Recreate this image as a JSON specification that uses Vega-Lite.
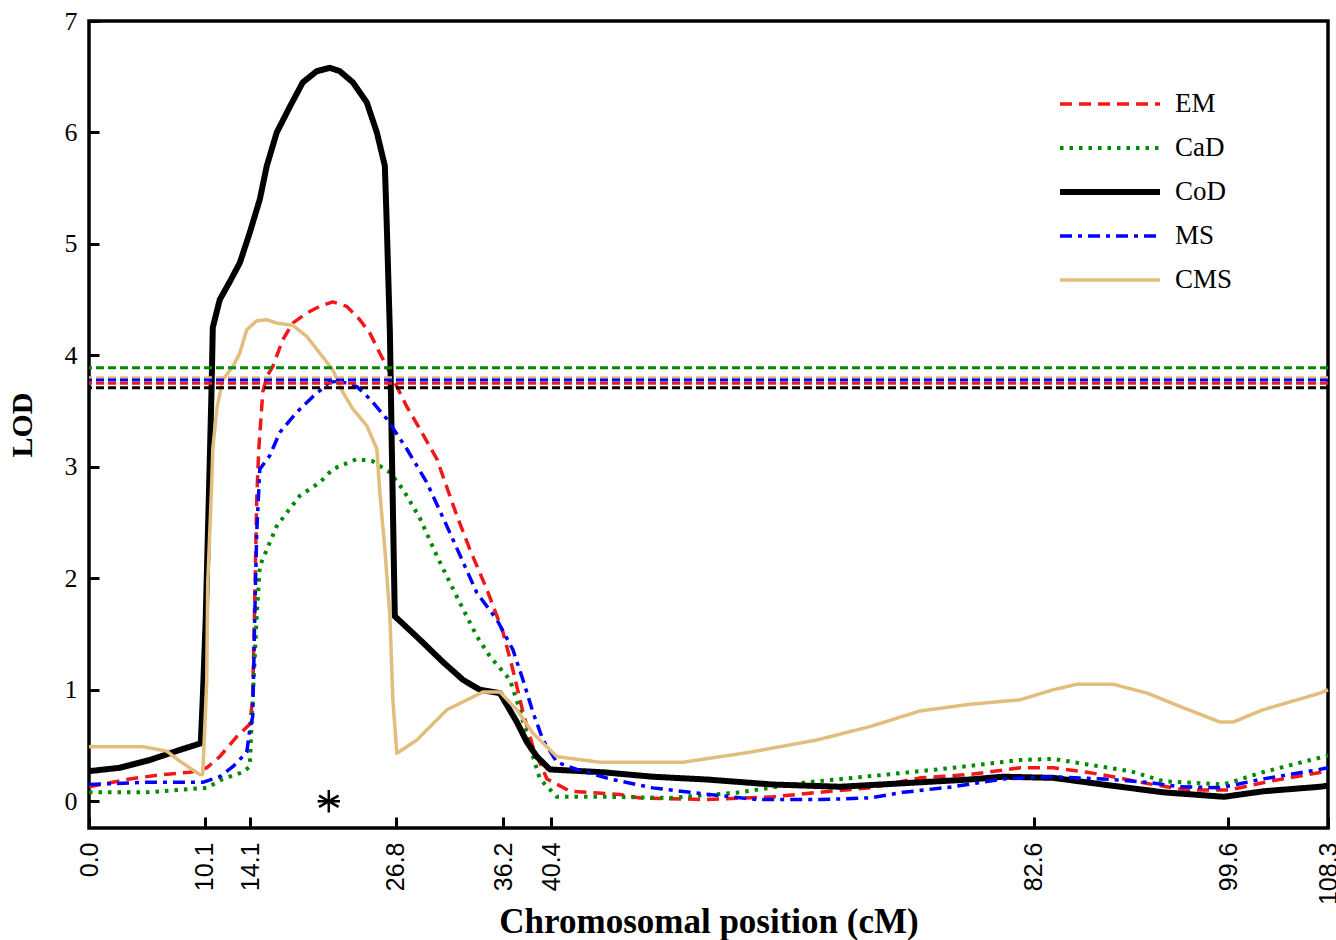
{
  "$schema": "https://vega.github.io/schema/vega-lite/v6.json",
  "autosize": "none",
  "width": 1239,
  "height": 807,
  "padding": {"left": 89, "top": 21, "right": 8, "bottom": 112},
  "background": "white",
  "config": {
    "view": {"stroke": "black", "strokeWidth": 3.5},
    "axis": {"grid": false, "domain": false, "tickColor": "black", "labelColor": "black", "titleColor": "black"}
  },
  "datasets": {
    "curves": [
      {"method": "EM", "pos": 0.0, "lod": 0.13},
      {"method": "EM", "pos": 3.56, "lod": 0.2},
      {"method": "EM", "pos": 6.45, "lod": 0.24},
      {"method": "EM", "pos": 8.81, "lod": 0.26},
      {"method": "EM", "pos": 10.29, "lod": 0.3},
      {"method": "EM", "pos": 11.43, "lod": 0.4},
      {"method": "EM", "pos": 12.92, "lod": 0.58},
      {"method": "EM", "pos": 14.05, "lod": 0.69},
      {"method": "EM", "pos": 14.3, "lod": 0.91},
      {"method": "EM", "pos": 14.49, "lod": 1.81},
      {"method": "EM", "pos": 14.66, "lod": 2.71},
      {"method": "EM", "pos": 14.84, "lod": 3.16},
      {"method": "EM", "pos": 15.19, "lod": 3.67},
      {"method": "EM", "pos": 15.54, "lod": 3.81},
      {"method": "EM", "pos": 16.06, "lod": 3.9},
      {"method": "EM", "pos": 16.94, "lod": 4.14},
      {"method": "EM", "pos": 17.81, "lod": 4.29},
      {"method": "EM", "pos": 19.04, "lod": 4.38},
      {"method": "EM", "pos": 20.17, "lod": 4.44},
      {"method": "EM", "pos": 21.31, "lod": 4.48},
      {"method": "EM", "pos": 22.53, "lod": 4.44},
      {"method": "EM", "pos": 23.67, "lod": 4.32},
      {"method": "EM", "pos": 24.55, "lod": 4.2},
      {"method": "EM", "pos": 25.42, "lod": 4.02},
      {"method": "EM", "pos": 26.03, "lod": 3.9},
      {"method": "EM", "pos": 26.91, "lod": 3.72},
      {"method": "EM", "pos": 27.78, "lod": 3.54},
      {"method": "EM", "pos": 28.92, "lod": 3.34},
      {"method": "EM", "pos": 30.41, "lod": 3.07},
      {"method": "EM", "pos": 32.16, "lod": 2.56},
      {"method": "EM", "pos": 33.29, "lod": 2.26},
      {"method": "EM", "pos": 34.78, "lod": 1.9},
      {"method": "EM", "pos": 36.18, "lod": 1.52},
      {"method": "EM", "pos": 37.05, "lod": 1.18},
      {"method": "EM", "pos": 37.93, "lod": 0.8},
      {"method": "EM", "pos": 38.8, "lod": 0.49},
      {"method": "EM", "pos": 40.03, "lod": 0.2},
      {"method": "EM", "pos": 42.04, "lod": 0.09},
      {"method": "EM", "pos": 46.41, "lod": 0.06},
      {"method": "EM", "pos": 48.16, "lod": 0.03},
      {"method": "EM", "pos": 54.0, "lod": 0.015},
      {"method": "EM", "pos": 59.8, "lod": 0.04},
      {"method": "EM", "pos": 64.79, "lod": 0.09},
      {"method": "EM", "pos": 68.3, "lod": 0.12},
      {"method": "EM", "pos": 72.64, "lod": 0.21},
      {"method": "EM", "pos": 77.0, "lod": 0.24},
      {"method": "EM", "pos": 81.39, "lod": 0.3},
      {"method": "EM", "pos": 84.28, "lod": 0.3},
      {"method": "EM", "pos": 87.25, "lod": 0.26},
      {"method": "EM", "pos": 89.52, "lod": 0.22},
      {"method": "EM", "pos": 91.88, "lod": 0.17},
      {"method": "EM", "pos": 95.99, "lod": 0.1},
      {"method": "EM", "pos": 99.6, "lod": 0.1},
      {"method": "EM", "pos": 103.25, "lod": 0.18},
      {"method": "EM", "pos": 108.3, "lod": 0.27},

      {"method": "CaD", "pos": 0.0, "lod": 0.08},
      {"method": "CaD", "pos": 5.05, "lod": 0.08},
      {"method": "CaD", "pos": 10.29, "lod": 0.12},
      {"method": "CaD", "pos": 11.69, "lod": 0.2},
      {"method": "CaD", "pos": 13.44, "lod": 0.26},
      {"method": "CaD", "pos": 14.05, "lod": 0.31},
      {"method": "CaD", "pos": 14.31, "lod": 0.91},
      {"method": "CaD", "pos": 14.66, "lod": 1.66},
      {"method": "CaD", "pos": 14.93, "lod": 2.11},
      {"method": "CaD", "pos": 15.8, "lod": 2.32},
      {"method": "CaD", "pos": 16.41, "lod": 2.47},
      {"method": "CaD", "pos": 18.42, "lod": 2.74},
      {"method": "CaD", "pos": 20.17, "lod": 2.86},
      {"method": "CaD", "pos": 21.31, "lod": 2.98},
      {"method": "CaD", "pos": 23.41, "lod": 3.07},
      {"method": "CaD", "pos": 24.81, "lod": 3.05},
      {"method": "CaD", "pos": 26.3, "lod": 2.95},
      {"method": "CaD", "pos": 27.43, "lod": 2.8},
      {"method": "CaD", "pos": 28.92, "lod": 2.54},
      {"method": "CaD", "pos": 30.41, "lod": 2.2},
      {"method": "CaD", "pos": 32.42, "lod": 1.78},
      {"method": "CaD", "pos": 33.9, "lod": 1.48},
      {"method": "CaD", "pos": 35.04, "lod": 1.3},
      {"method": "CaD", "pos": 36.79, "lod": 1.09},
      {"method": "CaD", "pos": 37.66, "lod": 0.82},
      {"method": "CaD", "pos": 38.54, "lod": 0.49},
      {"method": "CaD", "pos": 39.41, "lod": 0.2},
      {"method": "CaD", "pos": 40.9, "lod": 0.04},
      {"method": "CaD", "pos": 44.92, "lod": 0.04},
      {"method": "CaD", "pos": 50.78, "lod": 0.03},
      {"method": "CaD", "pos": 56.9, "lod": 0.08},
      {"method": "CaD", "pos": 62.76, "lod": 0.17},
      {"method": "CaD", "pos": 69.76, "lod": 0.24},
      {"method": "CaD", "pos": 75.53, "lod": 0.3},
      {"method": "CaD", "pos": 81.39, "lod": 0.37},
      {"method": "CaD", "pos": 84.28, "lod": 0.38},
      {"method": "CaD", "pos": 87.25, "lod": 0.33},
      {"method": "CaD", "pos": 91.01, "lod": 0.27},
      {"method": "CaD", "pos": 93.9, "lod": 0.18},
      {"method": "CaD", "pos": 99.15, "lod": 0.15},
      {"method": "CaD", "pos": 102.6, "lod": 0.26},
      {"method": "CaD", "pos": 108.3, "lod": 0.41},

      {"method": "CoD", "pos": 0.0, "lod": 0.27},
      {"method": "CoD", "pos": 2.68, "lod": 0.3},
      {"method": "CoD", "pos": 5.31, "lod": 0.37},
      {"method": "CoD", "pos": 7.93, "lod": 0.46},
      {"method": "CoD", "pos": 9.77, "lod": 0.52},
      {"method": "CoD", "pos": 9.94, "lod": 0.91},
      {"method": "CoD", "pos": 10.2, "lod": 1.63},
      {"method": "CoD", "pos": 10.38, "lod": 2.35},
      {"method": "CoD", "pos": 10.56, "lod": 3.07},
      {"method": "CoD", "pos": 10.73, "lod": 3.78},
      {"method": "CoD", "pos": 10.82, "lod": 4.25},
      {"method": "CoD", "pos": 11.43, "lod": 4.5},
      {"method": "CoD", "pos": 12.3, "lod": 4.66},
      {"method": "CoD", "pos": 13.18, "lod": 4.83},
      {"method": "CoD", "pos": 14.05, "lod": 5.1},
      {"method": "CoD", "pos": 14.93, "lod": 5.4},
      {"method": "CoD", "pos": 15.54, "lod": 5.7},
      {"method": "CoD", "pos": 16.41, "lod": 6.0},
      {"method": "CoD", "pos": 17.55, "lod": 6.23},
      {"method": "CoD", "pos": 18.69, "lod": 6.45},
      {"method": "CoD", "pos": 19.91, "lod": 6.55},
      {"method": "CoD", "pos": 21.05, "lod": 6.58},
      {"method": "CoD", "pos": 21.92, "lod": 6.55},
      {"method": "CoD", "pos": 23.06, "lod": 6.45},
      {"method": "CoD", "pos": 24.28, "lod": 6.27},
      {"method": "CoD", "pos": 25.16, "lod": 6.0},
      {"method": "CoD", "pos": 25.86, "lod": 5.7},
      {"method": "CoD", "pos": 26.03, "lod": 5.16},
      {"method": "CoD", "pos": 26.3, "lod": 4.21},
      {"method": "CoD", "pos": 26.47, "lod": 3.16},
      {"method": "CoD", "pos": 26.73, "lod": 1.66},
      {"method": "CoD", "pos": 28.92, "lod": 1.45},
      {"method": "CoD", "pos": 30.93, "lod": 1.25},
      {"method": "CoD", "pos": 32.68, "lod": 1.09},
      {"method": "CoD", "pos": 34.17, "lod": 1.0},
      {"method": "CoD", "pos": 35.92, "lod": 0.97},
      {"method": "CoD", "pos": 37.4, "lod": 0.71},
      {"method": "CoD", "pos": 38.28, "lod": 0.53},
      {"method": "CoD", "pos": 39.15, "lod": 0.4},
      {"method": "CoD", "pos": 40.29, "lod": 0.285},
      {"method": "CoD", "pos": 44.92, "lod": 0.26},
      {"method": "CoD", "pos": 49.29, "lod": 0.22},
      {"method": "CoD", "pos": 54.0, "lod": 0.195},
      {"method": "CoD", "pos": 59.79, "lod": 0.15},
      {"method": "CoD", "pos": 65.65, "lod": 0.13},
      {"method": "CoD", "pos": 72.64, "lod": 0.17},
      {"method": "CoD", "pos": 77.0, "lod": 0.195},
      {"method": "CoD", "pos": 79.9, "lod": 0.22},
      {"method": "CoD", "pos": 84.28, "lod": 0.21},
      {"method": "CoD", "pos": 88.65, "lod": 0.15},
      {"method": "CoD", "pos": 93.9, "lod": 0.08},
      {"method": "CoD", "pos": 99.2, "lod": 0.04},
      {"method": "CoD", "pos": 102.7, "lod": 0.09},
      {"method": "CoD", "pos": 107.6, "lod": 0.13},
      {"method": "CoD", "pos": 108.3, "lod": 0.14},

      {"method": "MS", "pos": 0.0, "lod": 0.15},
      {"method": "MS", "pos": 5.05, "lod": 0.17},
      {"method": "MS", "pos": 9.94, "lod": 0.17},
      {"method": "MS", "pos": 11.43, "lod": 0.22},
      {"method": "MS", "pos": 12.57, "lod": 0.31},
      {"method": "MS", "pos": 13.79, "lod": 0.44},
      {"method": "MS", "pos": 14.05, "lod": 0.64},
      {"method": "MS", "pos": 14.31, "lod": 0.76},
      {"method": "MS", "pos": 14.49, "lod": 1.66},
      {"method": "MS", "pos": 14.66, "lod": 2.41},
      {"method": "MS", "pos": 14.93, "lod": 2.98},
      {"method": "MS", "pos": 15.8, "lod": 3.1},
      {"method": "MS", "pos": 16.68, "lod": 3.31},
      {"method": "MS", "pos": 18.16, "lod": 3.49},
      {"method": "MS", "pos": 19.56, "lod": 3.63},
      {"method": "MS", "pos": 21.05, "lod": 3.76},
      {"method": "MS", "pos": 21.92, "lod": 3.77},
      {"method": "MS", "pos": 23.41, "lod": 3.72},
      {"method": "MS", "pos": 24.55, "lod": 3.61},
      {"method": "MS", "pos": 26.03, "lod": 3.43},
      {"method": "MS", "pos": 27.78, "lod": 3.16},
      {"method": "MS", "pos": 29.53, "lod": 2.86},
      {"method": "MS", "pos": 31.54, "lod": 2.41},
      {"method": "MS", "pos": 33.9, "lod": 1.87},
      {"method": "MS", "pos": 35.65, "lod": 1.63},
      {"method": "MS", "pos": 37.05, "lod": 1.36},
      {"method": "MS", "pos": 37.93, "lod": 1.09},
      {"method": "MS", "pos": 38.8, "lod": 0.8},
      {"method": "MS", "pos": 39.68, "lod": 0.55},
      {"method": "MS", "pos": 40.9, "lod": 0.35},
      {"method": "MS", "pos": 42.65, "lod": 0.285},
      {"method": "MS", "pos": 45.53, "lod": 0.2},
      {"method": "MS", "pos": 49.29, "lod": 0.12},
      {"method": "MS", "pos": 52.53, "lod": 0.08},
      {"method": "MS", "pos": 58.39, "lod": 0.015},
      {"method": "MS", "pos": 63.9, "lod": 0.015},
      {"method": "MS", "pos": 68.3, "lod": 0.03},
      {"method": "MS", "pos": 71.16, "lod": 0.08},
      {"method": "MS", "pos": 75.53, "lod": 0.13},
      {"method": "MS", "pos": 79.9, "lod": 0.2},
      {"method": "MS", "pos": 84.28, "lod": 0.22},
      {"method": "MS", "pos": 88.65, "lod": 0.2},
      {"method": "MS", "pos": 92.5, "lod": 0.17},
      {"method": "MS", "pos": 95.38, "lod": 0.13},
      {"method": "MS", "pos": 98.87, "lod": 0.12},
      {"method": "MS", "pos": 102.6, "lod": 0.2},
      {"method": "MS", "pos": 107.3, "lod": 0.28},
      {"method": "MS", "pos": 108.3, "lod": 0.3},

      {"method": "CMS", "pos": 0.0, "lod": 0.49},
      {"method": "CMS", "pos": 4.69, "lod": 0.49},
      {"method": "CMS", "pos": 6.79, "lod": 0.45},
      {"method": "CMS", "pos": 7.93, "lod": 0.36},
      {"method": "CMS", "pos": 9.68, "lod": 0.24},
      {"method": "CMS", "pos": 9.94, "lod": 0.24},
      {"method": "CMS", "pos": 10.29, "lod": 1.07},
      {"method": "CMS", "pos": 10.38, "lod": 1.96},
      {"method": "CMS", "pos": 10.73, "lod": 2.86},
      {"method": "CMS", "pos": 10.82, "lod": 3.16},
      {"method": "CMS", "pos": 11.17, "lod": 3.52},
      {"method": "CMS", "pos": 11.69, "lod": 3.78},
      {"method": "CMS", "pos": 12.57, "lod": 3.9},
      {"method": "CMS", "pos": 13.18, "lod": 4.02},
      {"method": "CMS", "pos": 13.79, "lod": 4.23},
      {"method": "CMS", "pos": 14.66, "lod": 4.31},
      {"method": "CMS", "pos": 15.54, "lod": 4.32},
      {"method": "CMS", "pos": 16.41, "lod": 4.29},
      {"method": "CMS", "pos": 17.81, "lod": 4.27},
      {"method": "CMS", "pos": 19.04, "lod": 4.17},
      {"method": "CMS", "pos": 20.17, "lod": 4.02},
      {"method": "CMS", "pos": 21.31, "lod": 3.87},
      {"method": "CMS", "pos": 22.18, "lod": 3.67},
      {"method": "CMS", "pos": 23.06, "lod": 3.52},
      {"method": "CMS", "pos": 24.28, "lod": 3.37},
      {"method": "CMS", "pos": 25.16, "lod": 3.16},
      {"method": "CMS", "pos": 25.42, "lod": 2.77},
      {"method": "CMS", "pos": 25.86, "lod": 2.26},
      {"method": "CMS", "pos": 26.3, "lod": 1.66},
      {"method": "CMS", "pos": 26.56, "lod": 0.91},
      {"method": "CMS", "pos": 26.91, "lod": 0.43},
      {"method": "CMS", "pos": 28.66, "lod": 0.55},
      {"method": "CMS", "pos": 31.28, "lod": 0.82},
      {"method": "CMS", "pos": 34.43, "lod": 0.98},
      {"method": "CMS", "pos": 35.92, "lod": 0.98},
      {"method": "CMS", "pos": 37.4, "lod": 0.82},
      {"method": "CMS", "pos": 38.8, "lod": 0.61},
      {"method": "CMS", "pos": 40.9, "lod": 0.4},
      {"method": "CMS", "pos": 44.66, "lod": 0.35},
      {"method": "CMS", "pos": 51.92, "lod": 0.35},
      {"method": "CMS", "pos": 57.78, "lod": 0.44},
      {"method": "CMS", "pos": 63.64, "lod": 0.55},
      {"method": "CMS", "pos": 68.27, "lod": 0.67},
      {"method": "CMS", "pos": 72.64, "lod": 0.81},
      {"method": "CMS", "pos": 77.0, "lod": 0.87},
      {"method": "CMS", "pos": 81.39, "lod": 0.91},
      {"method": "CMS", "pos": 84.28, "lod": 1.0},
      {"method": "CMS", "pos": 86.38, "lod": 1.05},
      {"method": "CMS", "pos": 89.52, "lod": 1.05},
      {"method": "CMS", "pos": 92.5, "lod": 0.97},
      {"method": "CMS", "pos": 95.38, "lod": 0.85},
      {"method": "CMS", "pos": 98.87, "lod": 0.71},
      {"method": "CMS", "pos": 100.0, "lod": 0.71},
      {"method": "CMS", "pos": 102.6, "lod": 0.82},
      {"method": "CMS", "pos": 107.6, "lod": 0.97},
      {"method": "CMS", "pos": 108.3, "lod": 1.0}
    ],
    "thresholds": [
      {"method": "CaD", "lod": 3.89},
      {"method": "CMS", "lod": 3.8},
      {"method": "MS", "lod": 3.78},
      {"method": "EM", "lod": 3.75},
      {"method": "CoD", "lod": 3.71}
    ],
    "marker": [
      {"pos": 20.96, "lod": 0}
    ]
  },
  "layer": [
    {
      "data": {"name": "curves"},
      "mark": {"type": "line", "strokeCap": "butt", "strokeJoin": "round"},
      "encoding": {
        "x": {
          "field": "pos", "type": "quantitative",
          "scale": {"domain": [0, 108.3], "nice": false, "zero": false},
          "axis": {
            "values": [0, 10.1, 14.1, 26.8, 36.2, 40.4, 82.6, 99.6, 108.3],
            "format": ".1f", "labelAngle": -90, "tickSize": -11, "tickWidth": 3,
            "labelPadding": 25, "labelFont": "Liberation Sans", "labelFontSize": 25,
            "title": "Chromosomal position (cM)", "titleFont": "Liberation Serif",
            "titleFontSize": 35, "titleFontWeight": "bold", "titlePadding": 0
          }
        },
        "y": {
          "field": "lod", "type": "quantitative",
          "scale": {"domain": [-0.24, 7], "nice": false, "zero": false},
          "axis": {
            "values": [0, 1, 2, 3, 4, 5, 6, 7], "format": "d", "tickSize": -10, "tickWidth": 3,
            "labelPadding": 22, "labelFont": "Liberation Serif", "labelFontSize": 26,
            "title": "LOD", "titleFont": "Liberation Serif", "titleFontSize": 30,
            "titleFontWeight": "bold", "titlePadding": 27
          }
        },
        "color": {
          "field": "method", "type": "nominal",
          "scale": {"domain": ["EM", "CaD", "CoD", "MS", "CMS"], "range": ["#f01818", "#008a00", "#000000", "#0000ff", "#e2bd7c"]},
          "legend": {
            "title": null, "orient": "none", "legendX": 968, "legendY": 68,
            "symbolType": "stroke", "symbolSize": 10000, "clipHeight": 30,
            "labelFont": "Liberation Serif", "labelFontSize": 27, "labelColor": "black",
            "labelOffset": 12, "rowPadding": 14, "padding": 0
          }
        },
        "strokeDash": {
          "field": "method", "type": "nominal",
          "scale": {"domain": ["EM", "CaD", "CoD", "MS", "CMS"], "range": [[12, 7], [3.5, 6], [1, 0], [12, 6, 4, 6], [1, 0]]},
          "legend": {
            "title": null, "orient": "none", "legendX": 968, "legendY": 68,
            "symbolType": "stroke", "symbolSize": 10000, "clipHeight": 30,
            "labelFont": "Liberation Serif", "labelFontSize": 27, "labelColor": "black",
            "labelOffset": 12, "rowPadding": 14, "padding": 0
          }
        },
        "strokeWidth": {
          "field": "method", "type": "nominal",
          "scale": {"type": "ordinal", "domain": ["EM", "CaD", "CoD", "MS", "CMS"], "range": [3.5, 4, 6, 3.5, 3.5]},
          "legend": {
            "title": null, "orient": "none", "legendX": 968, "legendY": 68,
            "symbolType": "stroke", "symbolSize": 10000, "clipHeight": 30,
            "labelFont": "Liberation Serif", "labelFontSize": 27, "labelColor": "black",
            "labelOffset": 12, "rowPadding": 14, "padding": 0
          }
        }
      }
    },
    {
      "data": {"name": "thresholds"},
      "mark": {"type": "rule", "strokeDash": [8, 4], "strokeWidth": 3},
      "encoding": {
        "y": {"field": "lod", "type": "quantitative"},
        "stroke": {
          "field": "method", "type": "nominal",
          "scale": {"domain": ["CaD", "CMS", "MS", "EM", "CoD"], "range": ["#008a00", "#e2bd7c", "#0000ff", "#f01818", "#000000"]},
          "legend": null
        }
      }
    },
    {
      "data": {"name": "marker"},
      "mark": {"type": "point", "shape": "M0,-1L0,1M-0.87,-0.5L0.87,0.5M-0.87,0.5L0.87,-0.5M-1,0L1,0", "filled": false, "stroke": "black", "strokeWidth": 2.5, "size": 500, "opacity": 1},
      "encoding": {
        "x": {"field": "pos", "type": "quantitative"},
        "y": {"field": "lod", "type": "quantitative"}
      }
    }
  ]
}
